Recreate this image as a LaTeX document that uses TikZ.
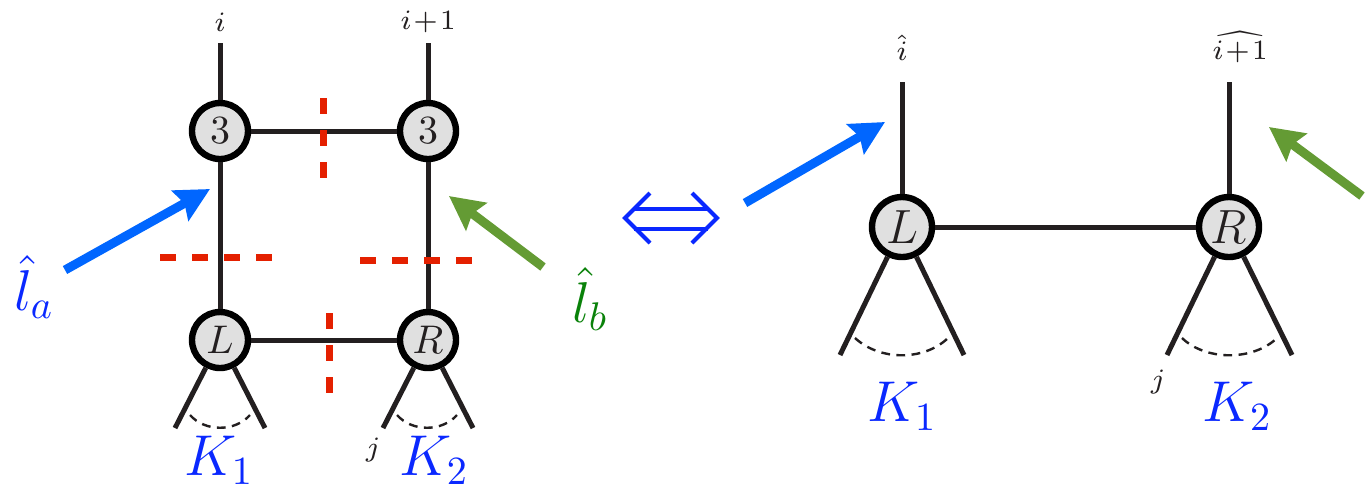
\documentclass[tikz,border=0pt]{standalone}
\usepackage{amsmath,amssymb}
\usetikzlibrary{arrows.meta,positioning}
\definecolor{legBlack}{RGB}{35,31,32}
\definecolor{nodeGray}{RGB}{224,224,224}
\definecolor{cutRed}{RGB}{228,32,0}
\definecolor{arrBlue}{RGB}{0,102,255}
\definecolor{arrGreen}{RGB}{100,155,52}
\definecolor{labBlue}{RGB}{10,40,255}
\definecolor{labGreen}{RGB}{10,130,10}
\tikzset{
  tensor/.style={circle, draw=black, fill=nodeGray, line width=1.6pt, minimum size=14pt,
                 inner sep=0pt, text=legBlack},
  bigtensor/.style={tensor, minimum size=15pt, font=\large},
  leg/.style={draw=legBlack, line width=1.25pt},
  cut/.style={draw=cutRed, line width=1.75pt, dash pattern=on 4pt off 4pt},
  fan/.style={draw=legBlack, line width=0.6pt, dash pattern=on 2.2pt off 1.6pt},
  idx/.style={font=\scriptsize, text=legBlack, inner sep=0pt},
  kset/.style={font=\Large, text=labBlue, inner sep=0pt},
  bluearrow/.style={-{Stealth[length=8.5pt,width=8.5pt,inset=1.2pt]}, line width=2.25pt, draw=arrBlue},
  greenarrow/.style={bluearrow, draw=arrGreen},
  equiv/.style={draw=labBlue, line width=1pt}
}
\begin{document}
\begin{tikzpicture}[x=0.25pt, y=-0.25pt]
\useasboundingbox (0,0) rectangle (1370,486);
% left: the four-site network
\node[tensor] (tl) at (220,131) {$3$};
\node[tensor] (tr) at (428,131) {$3$};
\node[tensor] (bl) at (220,340) {$L$};
\node[tensor] (br) at (428,340) {$R$};
\coordinate (tlTop) at (220,43);
\coordinate (trTop) at (428,43);
\coordinate (blA) at (175,428);
\coordinate (blB) at (265,428);
\coordinate (brA) at (383,428);
\coordinate (brB) at (473,428);
\draw[leg] (tl) -- (tlTop);
\draw[leg] (tr) -- (trTop);
\draw[leg] (tl) -- (tr);
\draw[leg] (bl) -- (br);
\draw[leg] (tl) -- (bl);
\draw[leg] (tr) -- (br);
\draw[leg] (bl) -- (blA);
\draw[leg] (bl) -- (blB);
\draw[leg] (br) -- (brA);
\draw[leg] (br) -- (brB);
\draw[fan] (190,415) .. controls (205,432) and (235,432) .. (250,415);
\draw[fan] (397,415) .. controls (412,432) and (442,432) .. (457,415);
\node[idx] (iL) at (220,22) {$i$};
\node[idx] (ipL) at (428,22) {$i\!+\!1$};
\node[idx] (jL) at (373,450) {$j$};
\node[kset] (k1L) at (219,460) {$K_1$};
\node[kset] (k2L) at (434,460) {$K_2$};
% cuts
\draw[cut] (323,98) -- (323,178);
\draw[cut] (329,313) -- (329,393);
\draw[cut] (160,257) -- (272,257);
\draw[cut] (360,260) -- (472,260);
% environment arrows
\coordinate (aStart) at (65,270);
\coordinate (aTip) at (210,189);
\coordinate (bStart) at (543,267);
\coordinate (bTip) at (449,196);
\draw[bluearrow] (aStart) -- (aTip);
\draw[greenarrow] (bStart) -- (bTip);
\node[font=\Large, text=labBlue, inner sep=0pt] (la) at (34,287) {$\hat{l}_a$};
\node[font=\Large, text=labGreen, inner sep=0pt] (lb) at (590,299) {$\hat{l}_b$};
% equivalence
\draw[equiv] (634,209) -- (708,209) (634,229) -- (708,229);
\draw[equiv] (650,193) -- (625,218) -- (650,243);
\draw[equiv] (692,193) -- (717,218) -- (692,243);
% right: the two-site network
\node[bigtensor] (L) at (902,227) {$L$};
\node[bigtensor] (R) at (1229,227) {$R$};
\coordinate (LTop) at (902,82);
\coordinate (RTop) at (1229,82);
\coordinate (LA) at (840,355);
\coordinate (LB) at (964,355);
\coordinate (RA) at (1167,355);
\coordinate (RB) at (1292,355);
\draw[leg] (L) -- (LTop);
\draw[leg] (R) -- (RTop);
\draw[leg] (L) -- (R);
\draw[leg] (L) -- (LA);
\draw[leg] (L) -- (LB);
\draw[leg] (R) -- (RA);
\draw[leg] (R) -- (RB);
\draw[fan] (855,338) .. controls (880,361) and (924,361) .. (948,338);
\draw[fan] (1182,338) .. controls (1206,361) and (1253,361) .. (1277,338);
\node[idx] (iR) at (902,48) {$\hat{i}$};
\node[idx] (ipR) at (1240,47) {$\widehat{i\!+\!1}$};
\node[idx] (jR) at (1158,382) {$j$};
\node[kset] (k1R) at (902,406) {$K_1$};
\node[kset] (k2R) at (1237,406) {$K_2$};
\coordinate (cStart) at (745,203);
\coordinate (cTip) at (885,122);
\coordinate (dStart) at (1362,196);
\coordinate (dTip) at (1269,127);
\draw[bluearrow] (cStart) -- (cTip);
\draw[greenarrow] (dStart) -- (dTip);
\end{tikzpicture}
\end{document}
